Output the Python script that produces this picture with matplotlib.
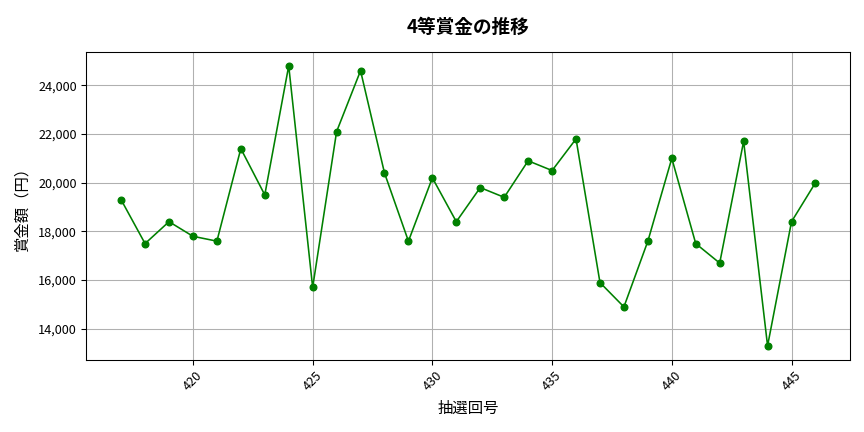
import matplotlib
matplotlib.use("Agg")
import matplotlib.pyplot as plt
from matplotlib.ticker import FuncFormatter

plt.rcParams['font.family'] = ['Noto Sans CJK JP', 'DejaVu Sans']

# 抽選回号と4等賞金
kaigou = list(range(417, 447))
shoukin = [19300, 17500, 18400, 17800, 17600, 21400, 19500, 24800, 15700, 22100,
           24600, 20400, 17600, 20200, 18400, 19800, 19400, 20900, 20500, 21800,
           15900, 14900, 17600, 21000, 17500, 16700, 21700, 13300, 18400, 20000]

fig, ax = plt.subplots(figsize=(9, 4.5), dpi=96)
ax.plot(kaigou, shoukin, marker="o", color="green", markersize=5, linewidth=1.2)
ax.set_title("4等賞金の推移", fontsize=14, fontweight="bold", pad=14)
ax.set_xlabel("抽選回号", fontsize=11.5, labelpad=5)
ax.set_ylabel("賞金額（円）", fontsize=11.5, labelpad=6)
ax.yaxis.set_major_formatter(FuncFormatter(lambda v, p: f"{int(v):,}"))
ax.tick_params(axis="both", labelsize=9.5)
plt.setp(ax.get_xticklabels(), rotation=45)
ax.grid(True, color="#b0b0b0", linewidth=0.8)
plt.subplots_adjust(left=0.1, right=0.984, top=0.88, bottom=0.167)
plt.savefig("out.png")
